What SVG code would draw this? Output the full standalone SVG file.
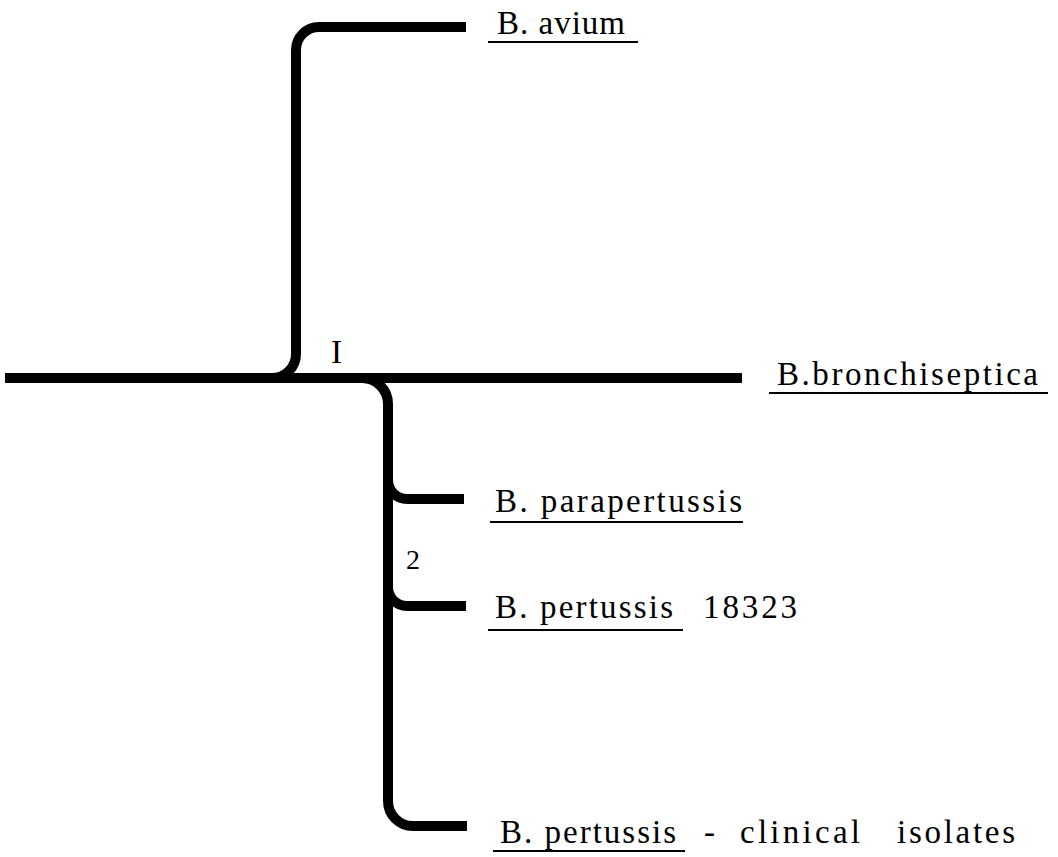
<svg xmlns="http://www.w3.org/2000/svg" width="1058" height="857" viewBox="0 0 1058 857">
<style>
.br{fill:none;stroke:#000;stroke-width:10;stroke-linecap:butt;stroke-linejoin:round}
.ul{stroke:#000;stroke-width:2}
text{font-family:"Liberation Serif","DejaVu Serif",serif;font-size:33px;fill:#000}
.num{font-size:28px}
</style>
<rect width="1058" height="857" fill="#fff"/>
<g id="connectors">
<path class="br" d="M5,378 H742"/>
<path class="br" d="M272,378 A24,24 0 0 0 296,354 V50 A23,23 0 0 1 319,27 H466"/>
<path class="br" d="M362,378 A26,26 0 0 1 388,404 V801 A25,25 0 0 0 413,826 H467"/>
<path class="br" d="M388,480 A19,19 0 0 0 407,499 H464"/>
<path class="br" d="M388,587 A19,19 0 0 0 407,606 H466"/>
</g>
<g id="label-1"><text x="331" y="363">I</text></g>
<g id="label-2"><text class="num" x="406" y="569">2</text></g>
<g id="avium">
<text x="497" y="34" textLength="128" lengthAdjust="spacing">B. avium</text>
<line class="ul" x1="488" y1="42" x2="638" y2="42"/>
</g>
<g id="bronchiseptica">
<text x="777" y="385" textLength="261" lengthAdjust="spacing">B.bronchiseptica</text>
<line class="ul" x1="769" y1="393" x2="1048" y2="393"/>
</g>
<g id="parapertussis">
<text x="495" y="512" textLength="247" lengthAdjust="spacing">B. parapertussis</text>
<line class="ul" x1="490" y1="522" x2="743" y2="522"/>
</g>
<g id="pertussis-18323">
<text x="495" y="618" textLength="178" lengthAdjust="spacing">B. pertussis</text>
<text x="703" y="618" textLength="94" lengthAdjust="spacing">18323</text>
<line class="ul" x1="488" y1="630" x2="683" y2="630"/>
</g>
<g id="pertussis-clinical">
<text x="500" y="843" textLength="176" lengthAdjust="spacing">B. pertussis</text>
<text x="704" y="843">-</text>
<text x="740" y="843" textLength="120" lengthAdjust="spacing">clinical</text>
<text x="897" y="843" textLength="118" lengthAdjust="spacing">isolates</text>
<line class="ul" x1="493" y1="851" x2="685" y2="851"/>
</g>
</svg>
